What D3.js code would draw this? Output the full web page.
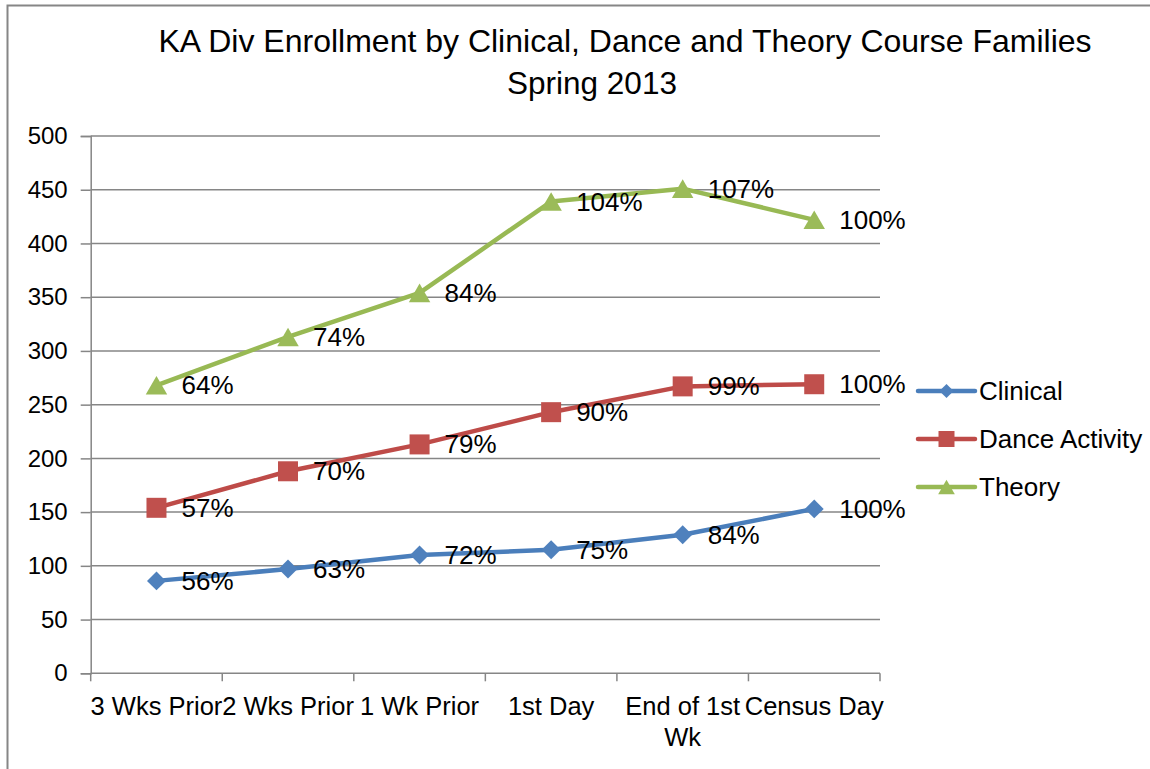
<!DOCTYPE html>
<html>
<head>
<meta charset="utf-8">
<script src="https://cdn.jsdelivr.net/npm/d3@7"></script>
<style>
  html, body { margin: 0; padding: 0; background: #fff; }
  svg { display: block; font-family: "Liberation Sans", Arial, sans-serif; }
</style>
</head>
<body>
<div id="chart"></div>
<script>
const categories = ["3 Wks Prior", "2 Wks Prior", "1 Wk Prior", "1st Day", "End of 1st Wk", "Census Day"];
const clinical = [86, 97, 110, 115, 129, 153];
const dance    = [154, 188, 213, 243, 267, 269];
const theory   = [268, 313, 354, 439, 451, 422];
const clinicalPct = ["56%", "63%", "72%", "75%", "84%", "100%"];
const dancePct    = ["57%", "70%", "79%", "90%", "99%", "100%"];
const theoryPct   = ["64%", "74%", "84%", "104%", "107%", "100%"];
const yTicks = [0, 50, 100, 150, 200, 250, 300, 350, 400, 450, 500];
const titleLines = ["KA Div Enrollment by Clinical, Dance and Theory Course Families", "Spring 2013"];

const series = [
  { name: "Clinical",       values: clinical, labels: clinicalPct, line: "#4A7EBB", fill: "#4F81BD", shape: "diamond" },
  { name: "Dance Activity", values: dance,    labels: dancePct,    line: "#BE4B48", fill: "#C0504D", shape: "square" },
  { name: "Theory",         values: theory,   labels: theoryPct,   line: "#98B954", fill: "#9BBB59", shape: "triangle" }
];

const W = 1150, H = 769;
const plot = { left: 90.7, right: 880, top: 136, bottom: 673.3 };
const GRID = "#868686";

const svg = d3.select("#chart").append("svg")
  .attr("width", W).attr("height", H);

// chart area border
svg.append("rect")
  .attr("x", 7.5).attr("y", 5.5)
  .attr("width", 1300).attr("height", 900)
  .attr("fill", "none").attr("stroke", GRID).attr("stroke-width", 2);

const x = d3.scaleBand().domain(categories).range([plot.left, plot.right]);
const y = d3.scaleLinear().domain([0, 500]).range([plot.bottom, plot.top]);
const cx = d => x(d) + x.bandwidth() / 2;

// Title
svg.append("text")
  .attr("x", 625).attr("y", 52)
  .attr("text-anchor", "middle")
  .attr("font-size", 32).attr("fill", "#000")
  .text(titleLines[0]);
svg.append("text")
  .attr("x", 592).attr("y", 94)
  .attr("text-anchor", "middle")
  .attr("font-size", 31.5).attr("fill", "#000")
  .text(titleLines[1]);

// Gridlines
svg.append("g")
  .selectAll("line")
  .data(yTicks.filter(t => t > 0))
  .join("line")
    .attr("x1", plot.left).attr("x2", plot.right)
    .attr("y1", d => y(d)).attr("y2", d => y(d))
    .attr("stroke", GRID).attr("stroke-width", 1.5);

// Y axis
const yAxis = svg.append("g")
  .attr("transform", `translate(${plot.left},0)`)
  .call(d3.axisLeft(y).tickValues(yTicks).tickSize(10).tickPadding(13));
yAxis.select(".domain").attr("stroke", GRID).attr("stroke-width", 1.5);
yAxis.selectAll(".tick line").attr("stroke", GRID).attr("stroke-width", 1.5);
yAxis.selectAll(".tick text")
  .attr("font-size", 24).attr("fill", "#000")
  .attr("font-family", "Liberation Sans, Arial, sans-serif");

// X axis line and boundary ticks
const xg = svg.append("g");
xg.append("line")
  .attr("x1", plot.left).attr("x2", plot.right)
  .attr("y1", plot.bottom).attr("y2", plot.bottom)
  .attr("stroke", GRID).attr("stroke-width", 1.5);
xg.selectAll(".bt")
  .data(categories)
  .join("line")
    .attr("class", "bt")
    .attr("x1", d => x(d) + x.bandwidth()).attr("x2", d => x(d) + x.bandwidth())
    .attr("y1", plot.bottom).attr("y2", plot.bottom + 8)
    .attr("stroke", GRID).attr("stroke-width", 1.5);
xg.append("line")
  .attr("x1", plot.left).attr("x2", plot.left)
  .attr("y1", plot.bottom).attr("y2", plot.bottom + 8)
  .attr("stroke", GRID).attr("stroke-width", 1.5);

// X labels, wrapped to band width
function wrapLines(text, maxW, fontSize) {
  const ctx = document.createElement("canvas").getContext("2d");
  ctx.font = `${fontSize}px "Liberation Sans", Arial, sans-serif`;
  const words = text.split(" ");
  const lines = [];
  let cur = "";
  words.forEach(w => {
    const test = cur ? cur + " " + w : w;
    if (ctx.measureText(test).width > maxW && cur) {
      lines.push(cur);
      cur = w;
    } else cur = test;
  });
  lines.push(cur);
  return lines;
}

categories.forEach(c => {
  const lines = wrapLines(c, 150, 25.5);
  const t = xg.append("text")
    .attr("x", cx(c)).attr("y", 715)
    .attr("text-anchor", "middle")
    .attr("font-size", 25.5).attr("fill", "#000");
  lines.forEach((ln, i) => {
    t.append("tspan").attr("x", cx(c)).attr("dy", i === 0 ? 0 : 31).text(ln);
  });
});

// marker shapes (triangle shifted so its box is centred on the point)
function markerPath(shape, big) {
  if (shape === "diamond") return d3.symbol(d3.symbolSquare, big ? 180 : 100)();
  if (shape === "square") return d3.symbol(d3.symbolSquare, big ? 400 : 256)();
  return d3.symbol(d3.symbolTriangle, big ? 200 : 120)();
}
function markerShift(shape, big) {
  if (shape !== "triangle") return 0;
  return Math.sqrt((big ? 200 : 120) / (Math.sqrt(3) * 3)) / 2;
}

const line = d3.line()
  .x((d, i) => cx(categories[i]))
  .y(d => y(d));

series.forEach(s => {
  const g = svg.append("g");
  g.append("path")
    .datum(s.values)
    .attr("fill", "none")
    .attr("stroke", s.line)
    .attr("stroke-width", 4.5)
    .attr("stroke-linejoin", "round")
    .attr("stroke-linecap", "round")
    .attr("d", line);

  const sh = markerShift(s.shape, true);
  g.selectAll("path.m")
    .data(s.values)
    .join("path")
      .attr("class", "m")
      .attr("d", markerPath(s.shape, true))
      .attr("transform", (d, i) => `translate(${cx(categories[i])},${y(d) + sh})` + (s.shape === "diamond" ? " rotate(45)" : ""))
      .attr("fill", s.fill);
});

// data labels drawn on top
series.forEach(s => {
  svg.append("g")
    .selectAll("text")
    .data(s.values)
    .join("text")
      .attr("x", (d, i) => cx(categories[i]) + 25)
      .attr("y", d => y(d) + 9)
      .attr("font-size", 26).attr("fill", "#000")
      .text((d, i) => s.labels[i]);
});

// Legend
const legend = svg.append("g");
series.forEach((s, i) => {
  const ly = 391 + i * 48;
  legend.append("line")
    .attr("x1", 918).attr("x2", 975)
    .attr("y1", ly).attr("y2", ly)
    .attr("stroke", s.line).attr("stroke-width", 4.5)
    .attr("stroke-linecap", "round");
  legend.append("path")
    .attr("d", markerPath(s.shape, false))
    .attr("transform", `translate(946.5,${ly + markerShift(s.shape, false)})` + (s.shape === "diamond" ? " rotate(45)" : ""))
    .attr("fill", s.fill);
  legend.append("text")
    .attr("x", 979).attr("y", ly + 9)
    .attr("font-size", 26).attr("fill", "#000")
    .text(s.name);
});
</script>
</body>
</html>
